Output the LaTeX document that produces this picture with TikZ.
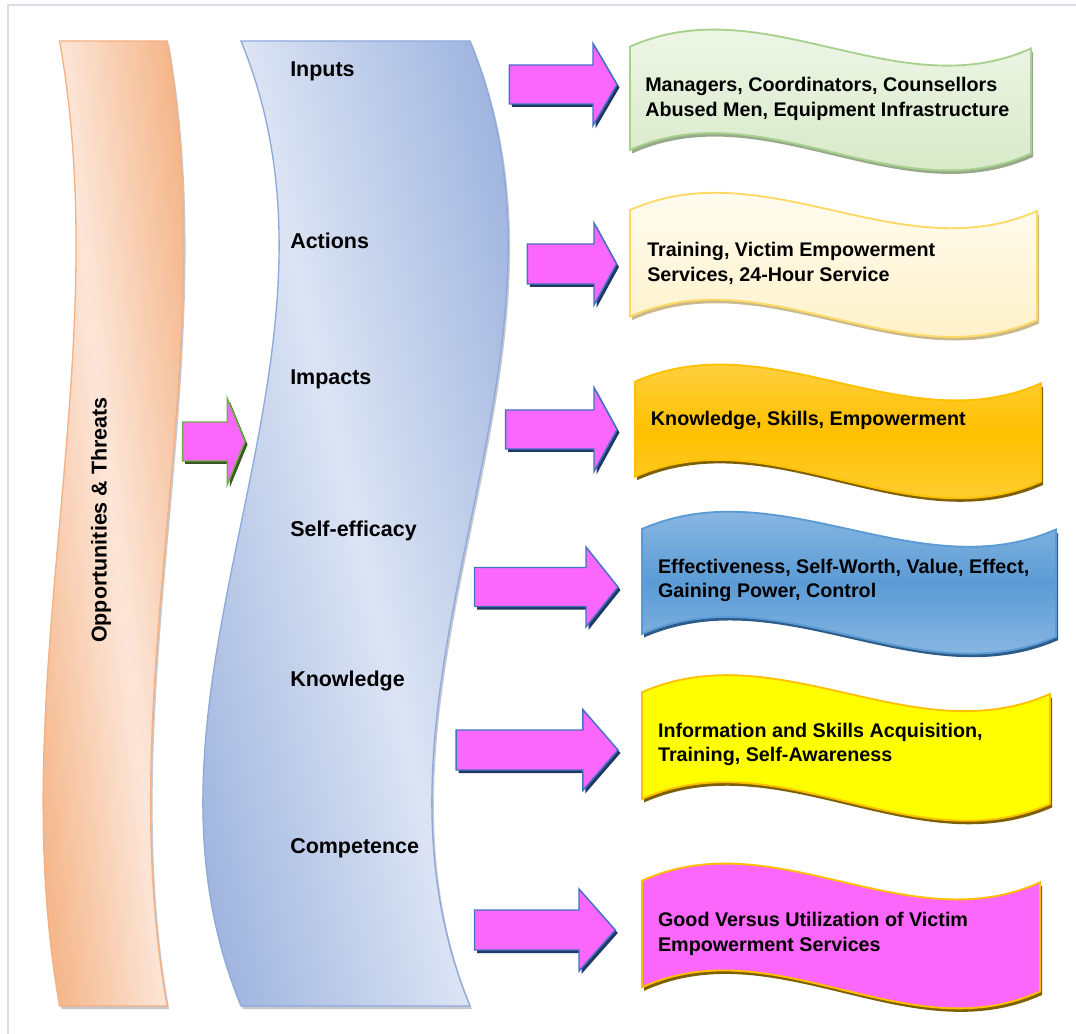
\documentclass[tikz,border=0pt]{standalone}
\usepackage{fontspec}
\setmainfont{Liberation Sans}

% ---------- colours ----------
\definecolor{frameline}{HTML}{DCDCE8}
\definecolor{orLight}{HTML}{FCE6D8}
\definecolor{orDark}{HTML}{F4B283}
\definecolor{orEdge}{HTML}{F4B183}
\definecolor{blLight}{HTML}{DCE4F4}
\definecolor{blDark}{HTML}{9DB3DE}
\definecolor{blEdge}{HTML}{8EAADB}
\definecolor{bandShade}{HTML}{9A9AA8}
\definecolor{arrowFill}{HTML}{FB66FB}
\definecolor{arrowEdge}{HTML}{4472C4}
\definecolor{arrowShade}{HTML}{1F3864}
\definecolor{grnEdge}{HTML}{70AD47}
\definecolor{grnShade}{HTML}{385723}
% banners
\definecolor{gTop}{HTML}{F4F9EF}
\definecolor{gBot}{HTML}{D2E6C1}
\definecolor{gEdge}{HTML}{A9D18E}
\definecolor{gShade}{HTML}{98A98B}
\definecolor{cTop}{HTML}{FFFEFA}
\definecolor{cBot}{HTML}{FFEFBF}
\definecolor{cEdge}{HTML}{FFD966}
\definecolor{cShade}{HTML}{C9B98C}
\definecolor{oTop}{HTML}{FFD966}
\definecolor{oMid}{HTML}{FFC000}
\definecolor{oBot}{HTML}{FFD54F}
\definecolor{goldEdge}{HTML}{FFC000}
\definecolor{goldShade}{HTML}{7F6000}
\definecolor{bTop}{HTML}{A2C6E8}
\definecolor{bMid}{HTML}{5B9BD5}
\definecolor{bBot}{HTML}{A2C6E8}
\definecolor{bEdge}{HTML}{5B9BD5}
\definecolor{bShade}{HTML}{2E5C8A}
\definecolor{yFill}{HTML}{FFFF00}
\definecolor{pFill}{HTML}{FB66FB}

% outline of a tall wavy band: #1 left x at top, #2 width, #3 control offset
\newcommand\wavepath[3]{(#1,41) .. controls ({#1+#3},363) and ({#1-#3},685) .. (#1,1006)
    -- ({#1+#2},1006) .. controls ({#1+#2-#3},685) and ({#1+#2+#3},363) .. ({#1+#2},41) -- cycle}

% tall band with a light streak running from its top-left to its bottom-right corner
% #1 left x, #2 width, #3 control offset, #4 streak angle, #5 half width of the streak shading,
% #6 dark colour, #7 light colour, #8 edge colour
\newcommand\waveband[8]{%
  \fill[bandShade, opacity=0.55, shift={(2,3)}] \wavepath{#1}{#2}{#3};
  \begin{scope}
    \clip \wavepath{#1}{#2}{#3};
    \shade[left color=#6, right color=#6, middle color=#7,
      transform canvas={rotate around={#4:({#1+#2/2},523.5)}}]
      ({#1+#2/2-#5},-80) rectangle ({#1+#2/2+#5},1130);
  \end{scope}
  \draw[#8, line width=1pt] \wavepath{#1}{#2}{#3};}

% wavy banner: x0, x1, top-left y, top-right y, bottom-left y, bottom-right y
\newcommand\banner[7][]{%
  \path[#1] (#2,#4) .. controls ({#2+(#3-#2)/3},{#4-60}) and ({#2+2*(#3-#2)/3},{#5+60}) .. (#3,#5)
    -- (#3,#7) .. controls ({#2+2*(#3-#2)/3},{#7+60}) and ({#2+(#3-#2)/3},{#6-60}) .. (#2,#6) -- cycle;}

% block arrow: shaft start x, head base x, tip x, centre y, shaft half height, head half height
\newcommand\blockarrow[7][]{%
  \path[#1] (#2,{#5-#6}) -- (#3,{#5-#6}) -- (#3,{#5-#7}) -- (#4,#5)
    -- (#3,{#5+#7}) -- (#3,{#5+#6}) -- (#2,{#5+#6}) -- cycle;}

\tikzset{
  lbl/.style={font=\bfseries\fontsize{16.1}{19}\selectfont, anchor=base west, inner sep=0pt},
  btxt/.style={font=\bfseries\fontsize{14.8}{18.4}\selectfont, anchor=base west, inner sep=0pt, align=left},
  arrowbody/.style={fill=arrowFill, draw=arrowEdge, line width=1.1pt, line join=miter},
  arrowdrop/.style={fill=arrowShade, shift={(2.5,3)}},
  bannerline/.style={line width=1.4pt},
}

\begin{document}
\begin{tikzpicture}[x=0.75pt, y=-0.75pt]
\useasboundingbox (0,0) rectangle (1076,1034);
\fill[white] (0,0) rectangle (1076,1034);
% frame lines
\draw[frameline, line width=0.8pt] (8,1034) -- (8,5) -- (1076,5);

% ---------- tall bands ----------
\waveband{59.6}{107.5}{57}{6.4}{118}{orDark}{orLight}{orEdge}
\waveband{241}{229}{132}{13.3}{240}{blDark}{blLight}{blEdge}

\node[lbl, rotate=90, anchor=base] (ot) at (106.5,520) {Opportunities \& Threats};

\node[lbl] (inputs) at (290,76.7) {Inputs};
\node[lbl] (actions) at (290,248.3) {Actions};
\node[lbl] (impacts) at (290,385) {Impacts};
\node[lbl] (selfeff) at (290,536.7) {Self-efficacy};
\node[lbl] (knowl) at (290,686.7) {Knowledge};
\node[lbl] (compet) at (290,853.3) {Competence};

% ---------- block arrows ----------
\blockarrow[fill=grnShade, shift={(2.5,3)}]{182.7}{227.3}{245}{441.5}{19.5}{43}
\blockarrow[fill=arrowFill, draw=grnEdge, line width=1.1pt]{182.7}{227.3}{245}{441.5}{19.5}{43}

\blockarrow[arrowdrop]{509.4}{593}{617}{84.5}{19.5}{41}
\blockarrow[arrowbody]{509.4}{593}{617}{84.5}{19.5}{41}
\blockarrow[arrowdrop]{527.4}{594}{616.5}{264}{20}{41}
\blockarrow[arrowbody]{527.4}{594}{616.5}{264}{20}{41}
\blockarrow[arrowdrop]{505.7}{594}{617}{429.5}{19.5}{42}
\blockarrow[arrowbody]{505.7}{594}{617}{429.5}{19.5}{42}
\blockarrow[arrowdrop]{474.5}{586}{618}{587}{19.5}{40}
\blockarrow[arrowbody]{474.5}{586}{618}{587}{19.5}{40}
\blockarrow[arrowdrop]{456.2}{582.8}{618}{750}{20}{40.5}
\blockarrow[arrowbody]{456.2}{582.8}{618}{750}{20}{40.5}
\blockarrow[arrowdrop]{474.5}{579}{615.3}{930}{20}{41}
\blockarrow[arrowbody]{474.5}{579}{615.3}{930}{20}{41}

% ---------- banners ----------
% (a two-line text node sits on the baseline of its last line)
\banner[fill=gShade, shift={(2,3.5)}]{630}{1031}{46.7}{48.5}{150}{153.5}
\banner[top color=gTop, bottom color=gBot, draw=gEdge, bannerline]{630}{1031}{46.7}{48.5}{150}{153.5}
\node[btxt] (inputsbox) at (645,116.5) {Managers, Coordinators, Counsellors\\Abused Men, Equipment Infrastructure};

\banner[fill=cShade, shift={(2,3.5)}]{630}{1037}{210}{211}{316.7}{320}
\banner[top color=cTop, bottom color=cBot, draw=cEdge, bannerline]{630}{1037}{210}{211}{316.7}{320}
\node[btxt] (actionsbox) at (647,281.5) {Training, Victim Empowerment\\Services, 24-Hour Service};

\banner[fill=goldShade, shift={(2,3.5)}]{635}{1041}{381.7}{383.3}{476.7}{481.5}
\banner[top color=oTop, bottom color=oBot, middle color=oMid, draw=goldEdge, bannerline]{635}{1041}{381.7}{383.3}{476.7}{481.5}
\node[btxt] (impactsbox) at (650.7,426) {Knowledge, Skills, Empowerment};

\banner[fill=bShade, shift={(2,3.5)}]{642}{1056}{529}{529.5}{634}{636.7}
\banner[top color=bTop, bottom color=bBot, middle color=bMid, draw=bEdge, bannerline]{642}{1056}{529}{529.5}{634}{636.7}
\node[btxt] (selfeffbox) at (657.8,598) {Effectiveness, Self-Worth, Value, Effect,\\Gaining Power, Control};

\banner[fill=goldShade, shift={(2,3.5)}]{642}{1050}{692.3}{694}{799}{804}
\banner[fill=yFill, draw=goldEdge, bannerline]{642}{1050}{692.3}{694}{799}{804}
\node[btxt] (knowlbox) at (657.8,761.8) {Information and Skills Acquisition,\\Training, Self-Awareness};

\banner[fill=goldShade, shift={(2,3.5)}]{642}{1040}{880.7}{882.3}{987.3}{991.5}
\banner[fill=pFill, draw=goldEdge, bannerline]{642}{1040}{880.7}{882.3}{987.3}{991.5}
\node[btxt] (competbox) at (657.8,951.3) {Good Versus Utilization of Victim\\Empowerment Services};
\end{tikzpicture}
\end{document}
